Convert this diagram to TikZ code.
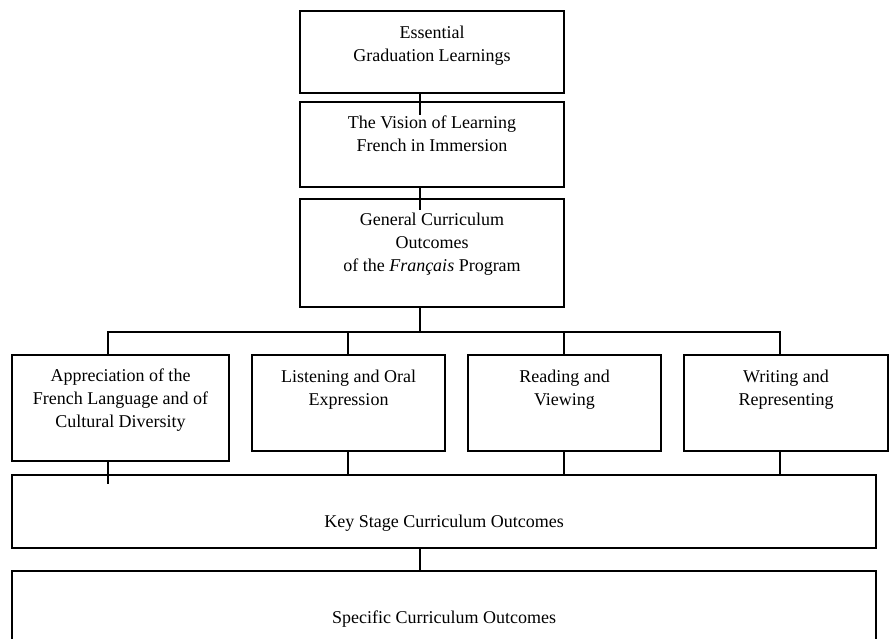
\documentclass[tikz,border=0pt]{standalone}
\usepackage{fontspec}
\setmainfont{Liberation Serif}
\begin{document}
\begin{tikzpicture}[x=1pt,y=-1pt,
  box/.style={draw, line width=2pt, inner sep=0pt, outer sep=0pt, anchor=north west},
  lbl/.style={anchor=base, align=center, inner sep=0pt, font=\fontsize{18}{23}\selectfont},
  link/.style={line width=2pt}]
\useasboundingbox (0,0) rectangle (890,638);
% boxes
\node[box, minimum width=264pt, minimum height=82pt]  (b1)   at (300,11)  {};
\node[box, minimum width=264pt, minimum height=85pt]  (b2)   at (300,102) {};
\node[box, minimum width=264pt, minimum height=108pt] (b3)   at (300,199) {};
\node[box, minimum width=217pt, minimum height=106pt] (bA)   at (12,355)  {};
\node[box, minimum width=193pt, minimum height=96pt]  (bB)   at (252,355) {};
\node[box, minimum width=193pt, minimum height=96pt]  (bC)   at (468,355) {};
\node[box, minimum width=204pt, minimum height=96pt]  (bD)   at (684,355) {};
\node[box, minimum width=864pt, minimum height=73pt]  (key)  at (12,475)  {};
\node[box, minimum width=864pt, minimum height=110pt] (spec) at (12,571)  {};
% texts (base anchor = baseline of the last line)
\node[lbl] (t1) at ([yshift=-50pt]b1.north) {Essential\\Graduation Learnings};
\node[lbl] (t2) at ([yshift=-49pt]b2.north) {The Vision of Learning\\French in Immersion};
\node[lbl] (t3) at ([yshift=-72pt]b3.north) {General Curriculum\\Outcomes\\of the \textit{Français} Program};
\node[lbl] (tA) at ([yshift=-72pt]bA.north) {Appreciation of the\\French Language and of\\Cultural Diversity};
\node[lbl] (tB) at ([yshift=-50pt]bB.north) {Listening and Oral\\Expression};
\node[lbl] (tC) at ([yshift=-50pt]bC.north) {Reading and\\Viewing};
\node[lbl] (tD) at ([yshift=-50pt]bD.north) {Writing and\\Representing};
\node[lbl] (tK) at ([yshift=-52pt]key.north) {Key Stage Curriculum Outcomes};
\node[lbl] (tS) at ([yshift=-52pt]spec.north) {Specific Curriculum Outcomes};
% connector columns
\coordinate (xm) at (420,0);
\coordinate (busL) at (108,332);
\coordinate (busR) at (780,332);
\coordinate (xB) at (348,0);
\coordinate (xC) at (564,0);
% connectors
\draw[link] (b1.south -| xm) -- ([yshift=-13pt]b2.north -| xm);
\draw[link] (b2.south -| xm) -- ([yshift=-11pt]b3.north -| xm);
\draw[link] (b3.south -| xm) -- (busL -| xm);
\draw[link] (bA.north -| busL) -- (busL) -- (busR) -- (bD.north -| busR);
\draw[link] (busL -| xB) -- (bB.north -| xB);
\draw[link] (busL -| xC) -- (bC.north -| xC);
\draw[link] (bA.south -| busL) -- ([yshift=-9pt]key.north -| busL);
\draw[link] (bB.south -| xB) -- (key.north -| xB);
\draw[link] (bC.south -| xC) -- (key.north -| xC);
\draw[link] (bD.south -| busR) -- (key.north -| busR);
\draw[link] (key.south -| xm) -- (spec.north -| xm);
\end{tikzpicture}
\end{document}
